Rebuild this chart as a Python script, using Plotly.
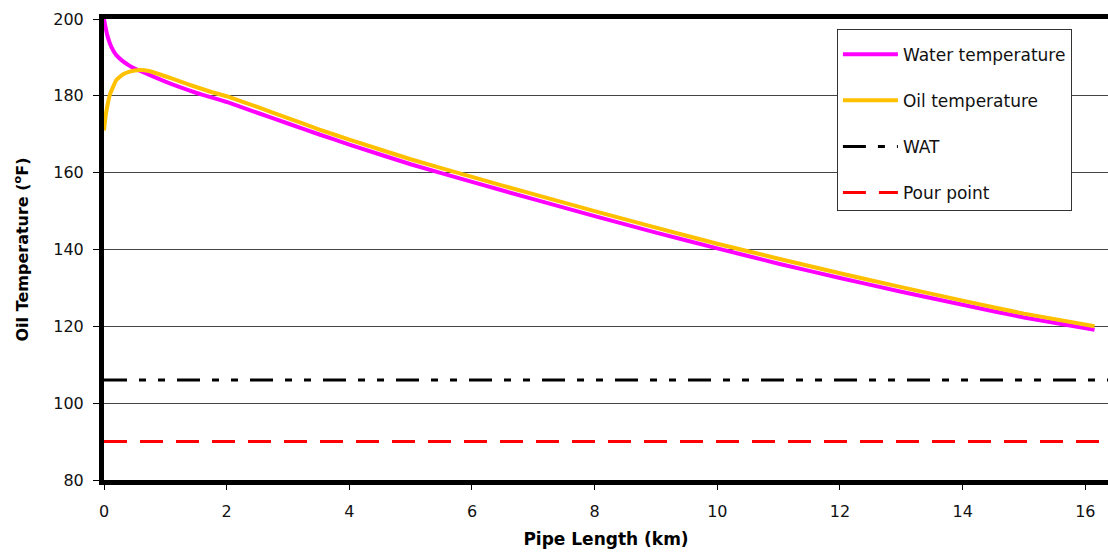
import plotly.graph_objects as go

# Data
water_x = [0, 0.02, 0.05, 0.1, 0.15, 0.2, 0.3, 0.4, 0.5, 0.6, 0.75, 1.0, 1.25, 1.5, 1.75, 2.0, 2.5, 3, 3.5, 4, 5, 6, 7, 8, 9, 10, 11, 12, 13, 14, 15, 16.15]
water_t = [200, 198.3, 196.0, 193.5, 191.8, 190.6, 189.1, 188.0, 187.1, 186.4, 185.4, 183.7, 182.2, 180.8, 179.6, 178.4, 175.6, 172.8, 170.0, 167.3, 162.2, 157.6, 153.1, 148.7, 144.4, 140.3, 136.3, 132.6, 129.0, 125.6, 122.3, 119.1]

oil_x = [0, 0.02, 0.05, 0.1, 0.2, 0.3, 0.42, 0.58, 0.75, 1.0, 1.25, 1.5, 1.75, 2.0, 2.5, 3, 3.5, 4, 5, 6, 7, 8, 9, 10, 11, 12, 13, 14, 15, 16.15]
oil_t = [171, 174.0, 177.0, 180.5, 184.1, 185.5, 186.3, 186.7, 186.4, 185.1, 183.7, 182.3, 181.0, 179.9, 177.1, 174.2, 171.3, 168.6, 163.5, 158.9, 154.4, 150.0, 145.7, 141.5, 137.6, 133.8, 130.2, 126.7, 123.3, 120.0]

wat_x = [0, 16.4]
wat_t = [106, 106]
pour_x = [0, 16.4]
pour_t = [90, 90]

x_ticks = [0, 2, 4, 6, 8, 10, 12, 14, 16]
y_ticks = [80, 100, 120, 140, 160, 180, 200]

FONT = "DejaVu Sans"

fig = go.Figure()
fig.add_trace(go.Scatter(x=water_x, y=water_t, mode="lines", name="Water temperature",
                         line=dict(color="#FF00FF", width=4, shape="spline", smoothing=0.3),
                         legendgroup="a"))
fig.add_trace(go.Scatter(x=oil_x, y=oil_t, mode="lines", name="Oil temperature",
                         line=dict(color="#FFC000", width=4, shape="spline", smoothing=0.3),
                         legendgroup="b"))
fig.add_trace(go.Scatter(x=wat_x, y=wat_t, mode="lines", name="WAT",
                         line=dict(color="black", width=3, dash="23px,12px,7px,12px,7px,12px"),
                         legendgroup="c"))
fig.add_trace(go.Scatter(x=pour_x, y=pour_t, mode="lines", name="Pour point",
                         line=dict(color="#FF0000", width=3, dash="23px,13px"),
                         legendgroup="d"))

fig.update_layout(
    width=1108, height=552,
    margin=dict(l=104, r=0, t=19, b=72),
    paper_bgcolor="white", plot_bgcolor="white",
    font=dict(family=FONT, size=16, color="black"),
    showlegend=True,
    legend=dict(x=0.730, y=0.978, xanchor="left", yanchor="top",
                bgcolor="white", bordercolor="#333333", borderwidth=1,
                font=dict(family=FONT, size=17, color="#111111"),
                title=dict(text=" ", font=dict(size=5)),
                tracegroupgap=21, itemwidth=55),
    xaxis=dict(range=[0, 16.37], tickvals=x_ticks, ticktext=[str(v) for v in x_ticks],
               showgrid=False, zeroline=False,
               showline=True, linecolor="black", linewidth=5, mirror=True,
               ticks="outside", ticklen=5, tickcolor="black", tickwidth=1,
               ticklabelstandoff=8,
               tickfont=dict(family=FONT, size=16, color="#111111"),
               title=dict(text="<b>Pipe Length (km)</b>", font=dict(family=FONT, size=17, color="black"),
                          standoff=14)),
    yaxis=dict(range=[80, 200], tickvals=y_ticks, ticktext=[str(v) for v in y_ticks],
               showgrid=True, gridcolor="#444444", gridwidth=1, zeroline=False,
               showline=True, linecolor="black", linewidth=5,
               ticks="outside", ticklen=6, tickcolor="black", tickwidth=1,
               ticklabelstandoff=6,
               tickfont=dict(family=FONT, size=16, color="#111111"),
               title=dict(text="<b>Oil Temperature (<sup>o</sup>F)</b>",
                          font=dict(family=FONT, size=16, color="black"), standoff=22)),
)

fig.write_html("out.html")
